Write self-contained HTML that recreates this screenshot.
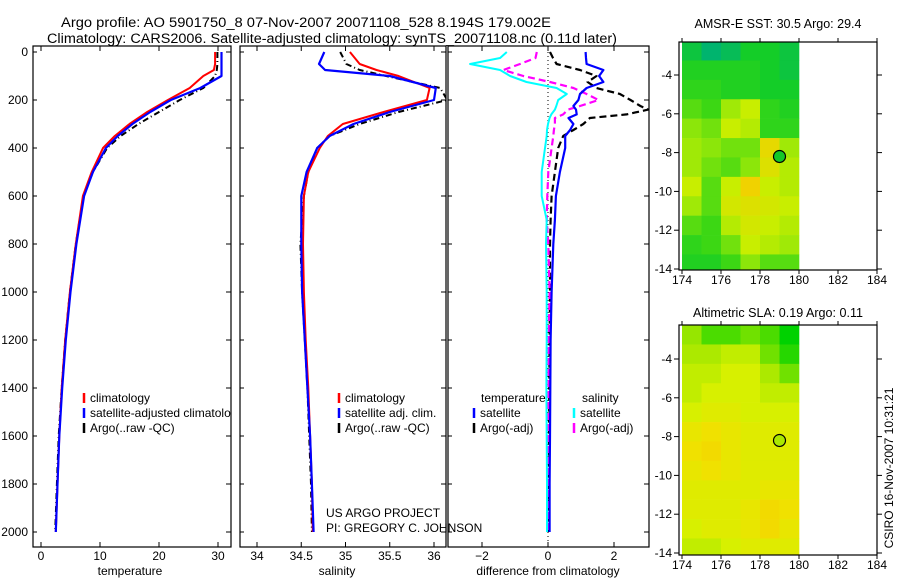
<!DOCTYPE html>
<html><head><meta charset="utf-8"><style>
body{margin:0;background:#fff;}
svg{display:block;font-family:"Liberation Sans",sans-serif;font-size:12px;}
</style></head><body>
<svg id="chart" width="900" height="580" viewBox="0 0 900 580" xmlns="http://www.w3.org/2000/svg">
<defs>
<clipPath id="c1"><rect x="33" y="46" width="198" height="501"/></clipPath>
<clipPath id="c2"><rect x="240" y="46" width="206" height="501"/></clipPath>
<clipPath id="c3"><rect x="448" y="46" width="201" height="501"/></clipPath>
<clipPath id="cm1"><rect x="679" y="42" width="198" height="228"/></clipPath>
<clipPath id="cm2"><rect x="679" y="325" width="198" height="230"/></clipPath>
</defs>
<text x="61" y="27" font-size="13.5" textLength="490" lengthAdjust="spacingAndGlyphs">Argo profile: AO 5901750_8 07-Nov-2007 20071108_528 8.194S 179.002E</text>
<text x="47" y="43" font-size="13.5" textLength="570" lengthAdjust="spacingAndGlyphs">Climatology: CARS2006. Satellite-adjusted climatology: synTS_20071108.nc (0.11d later)</text>
<g id="layer"></g>
<text transform="translate(893,468) rotate(-90)" text-anchor="middle">CSIRO 16-Nov-2007 10:31:21</text>
</svg>
<script>
// ---- data ----
const depths = [0,50,75,100,150,200,250,300,350,400,500,600,800,1000,1200,1400,1600,1800,2000];
const tempClim = [29.5,29.5,29.3,27.5,25.2,21.5,18,15,12.5,10.5,8.6,7.1,5.9,4.9,4.1,3.5,3.1,2.8,2.5];
const tempSat  = [30.6,30.6,30.6,30.6,27,22,18.5,15.5,13,11,8.8,7.3,6,5,4.2,3.6,3.1,2.8,2.5];
const tempArgo = [29.9,29.9,29.8,29.5,27.5,23.5,20,16.5,13.5,11.2,8.8,7.2,5.9,4.9,4.1,3.5,3.0,2.7,2.4];
const salClim = [35.05,35.16,35.35,35.6,35.95,35.92,35.43,34.97,34.8,34.71,34.58,34.53,34.52,34.53,34.55,34.58,34.6,34.62,34.63];
const salSat  = [34.76,34.7,34.77,35.5,36.02,36.0,35.5,35.09,34.82,34.68,34.56,34.5,34.5,34.51,34.54,34.57,34.6,34.62,34.64];
const salArgo = [34.94,35.01,35.16,35.46,36.07,36.15,35.6,35.16,34.82,34.68,34.58,34.53,34.49,34.51,34.54,34.57,34.59,34.61,34.62];
const diffDepths = [0,25,50,75,100,125,150,175,200,225,240,260,275,300,325,350,400,500,600,700,800,1000,1200,1400,1600,1800,2000];
const diffTempSat  = [1.14,1.15,1.17,1.68,1.55,1.68,1.17,0.97,0.92,0.77,0.85,0.87,0.62,0.77,0.67,0.52,0.52,0.36,0.24,0.21,0.16,0.11,0.08,0.07,0.06,0.05,0.05];
const diffTempArgo = [0.06,0.15,0.26,0.97,1.47,1.2,1.47,2.18,2.5,2.8,3.04,2.38,1.27,1.07,0.77,0.46,0.31,0.21,0.11,0.08,0.06,0.06,0.05,0.04,0.03,0.03,0.02];
const diffSalSat   = [-1.25,-1.45,-2.36,-1.45,-1.15,-0.65,0.26,0.57,0.31,0.25,0.21,0.1,0.05,0,-0.03,-0.04,-0.09,-0.19,-0.19,-0.04,-0.06,-0.04,-0.04,-0.05,-0.04,-0.03,-0.03];
const diffSalArgo  = [-0.34,-0.38,-0.85,-1.35,-0.75,0.06,0.77,1.17,1.53,0.97,0.6,0.46,0.21,0.21,0.18,0.16,0.11,0.01,-0.02,-0.04,0.01,0.05,0.02,0.02,0.01,0.01,0.01];
const depthTicks = [0,200,400,600,800,1000,1200,1400,1600,1800,2000];
const tempTicks = [0,10,20,30];
const salTicks = [34,34.5,35,35.5,36];
const diffTicks = [-2,0,2];
const latTicks = [-4,-6,-8,-10,-12,-14];
const lonTicks = [174,176,178,180,182,184];
const gridLon0 = 174, gridLat0 = -2.25;
const sstGrid = [
 [28.8,28.6,28.7,28.9,28.9,28.8],
 [29.0,29.0,29.0,29.0,28.9,28.8],
 [29.1,29.1,29.0,29.0,28.9,28.9],
 [29.3,29.2,29.6,29.8,29.1,29.0],
 [29.5,29.4,29.8,29.7,29.1,29.1],
 [29.6,29.5,29.4,29.4,30.1,29.6],
 [29.6,29.4,29.3,29.5,30.0,29.7],
 [29.8,29.3,29.8,30.2,29.8,29.7],
 [29.6,29.3,29.9,30.0,29.9,29.8],
 [29.3,29.2,29.7,29.9,29.8,29.7],
 [29.1,29.2,29.4,29.8,29.7,29.6],
 [29.0,29.0,29.2,29.5,29.3,29.3]];
const slaGrid = [
 [0.10,0.08,0.08,0.09,0.08,0.06],
 [0.11,0.11,0.12,0.12,0.09,0.07],
 [0.12,0.12,0.13,0.13,0.11,0.09],
 [0.12,0.13,0.13,0.13,0.12,0.12],
 [0.13,0.14,0.14,0.13,0.13,0.13],
 [0.15,0.16,0.15,0.14,0.14,0.14],
 [0.16,0.17,0.15,0.14,0.14,0.14],
 [0.15,0.16,0.15,0.14,0.14,0.14],
 [0.14,0.14,0.14,0.14,0.15,0.15],
 [0.14,0.14,0.14,0.15,0.17,0.16],
 [0.13,0.14,0.14,0.15,0.17,0.15],
 [0.12,0.12,0.13,0.14,0.14,0.14]];
const floatLon = 179.0, floatLat = -8.2;

// ---- drawing ----
const NS = "http://www.w3.org/2000/svg";
const layer = document.getElementById('layer');
function mk(tag, attrs, parent){ const e=document.createElementNS(NS,tag); for(const k in attrs) e.setAttribute(k,attrs[k]); (parent||layer).appendChild(e); return e; }
const yD = d => 52 + 0.24*d;
const xT = v => 41 + 5.9*v;
const xS = v => 257 + 88.5*(v-34);
const xF = v => 548 + 33*v;

function panel(name, x0, x1, xf, ticks, fmt, label, labelX){
  const r = mk('rect',{x:x0,y:46,width:x1-x0,height:501,fill:'none',stroke:'#000','stroke-width':1.2});
  
  
  ticks.forEach(t=>{
    const x=xf(t);
    mk('line',{x1:x,x2:x,y1:46,y2:51,stroke:'#000'});
    mk('line',{x1:x,x2:x,y1:542,y2:547,stroke:'#000'});
    const tl = mk('text',{x:x,y:560,'text-anchor':'middle'}); tl.textContent=fmt(t);
    
    
  });
  depthTicks.forEach(d=>{
    mk('line',{x1:x1-5,x2:x1,y1:yD(d),y2:yD(d),stroke:'#000'});
    mk('line',{x1:x0,x2:x0+4,y1:yD(d),y2:yD(d),stroke:'#000'});
  });
  const al = mk('text',{x:labelX,y:575,'text-anchor':'middle'}); al.textContent=label;
  
  
}
function series(name, ds, vals, xf, color, dash, clip, w){
  const pts = ds.map((d,i)=>xf(vals[i]).toFixed(1)+','+yD(d).toFixed(1)).join(' ');
  const a = {points:pts,fill:'none',stroke:color,'stroke-width':w||2,'clip-path':'url(#'+clip+')','stroke-linejoin':'round'};
  if(dash) a['stroke-dasharray']=dash;
  const p = mk('polyline',a);
  
  
}
function legendEntry(name, x, y, color, txt, clip){
  mk('line',{x1:x,x2:x,y1:y-9,y2:y+1,stroke:color,'stroke-width':2.5});
  const a = {x:x+6,y:y};
  if(clip) a['clip-path']='url(#'+clip+')';
  const t = mk('text',a); t.textContent=txt;
  
  
}

depthTicks.forEach(d=>{
  const t=mk('text',{x:28,y:yD(d)+4,'text-anchor':'end'}); t.textContent=d;
  
  
});

panel('temperature-panel',33,231,xT,tempTicks,v=>v,'temperature',130);
panel('salinity-panel',240,446,xS,salTicks,v=>String(v),'salinity',337);
panel('difference-panel',448,649,xF,diffTicks,v=>v<0?'\u2212'+(-v):v,'difference from climatology',548);

const z = mk('line',{x1:xF(0),x2:xF(0),y1:52,y2:547,stroke:'#000','stroke-dasharray':'1,3'});



series('temp-argo-line',depths,tempArgo,xT,'#000','6,3,1,3','c1',2);
series('temp-climatology-line',depths,tempClim,xT,'#f00',null,'c1',2);
series('temp-satellite-line',depths,tempSat,xT,'#00f',null,'c1',2.2);
series('sal-argo-line',depths,salArgo,xS,'#000','6,3,1,3','c2',2);
series('sal-climatology-line',depths,salClim,xS,'#f00',null,'c2',2);
series('sal-satellite-line',depths,salSat,xS,'#00f',null,'c2',2.2);
series('diff-temp-argo-line',diffDepths,diffTempArgo,xF,'#000','7,4','c3',2.2);
series('diff-sal-argo-line',diffDepths,diffSalArgo,xF,'#f0f','7,4','c3',2.2);
series('diff-sal-satellite-line',diffDepths,diffSalSat,xF,'#0ff',null,'c3',2);
series('diff-temp-satellite-line',diffDepths,diffTempSat,xF,'#00f',null,'c3',2.2);

legendEntry('legend-climatology',84,402,'#f00','climatology','c1');
legendEntry('legend-satellite-adjusted',84,417,'#00f','satellite-adjusted climatology','c1');
legendEntry('legend-argo',84,432,'#000','Argo(..raw -QC)','c1');
legendEntry('legend-sal-climatology',339,402,'#f00','climatology');
legendEntry('legend-sal-satellite',339,417,'#00f','satellite adj. clim.');
legendEntry('legend-sal-argo',339,432,'#000','Argo(..raw -QC)');
(function(){const t=mk('text',{x:481,y:402});t.textContent='temperature';


const s=mk('text',{x:582,y:402});s.textContent='salinity';

})();
legendEntry('legend-diff-temp-satellite',474,417,'#00f','satellite');
legendEntry('legend-diff-temp-argo',474,432,'#000','Argo(-adj)');
legendEntry('legend-diff-sal-satellite',574,417,'#0ff','satellite');
legendEntry('legend-diff-sal-argo',574,432,'#f0f','Argo(-adj)');
(function(){const a=mk('text',{x:326,y:517});a.textContent='US ARGO PROJECT';


const b=mk('text',{x:326,y:532});b.textContent='PI: GREGORY C. JOHNSON';

})();

// ---- maps ----
function lerpColor(stops, v){
  if(v<=stops[0][0]) return stops[0][1];
  for(let i=1;i<stops.length;i++){ if(v<=stops[i][0]){ const a=stops[i-1],b=stops[i],t=(v-a[0])/(b[0]-a[0]); return a[1].map((c,k)=>Math.round(c+(b[1][k]-c)*t)); } }
  return stops[stops.length-1][1];
}
const sstStops=[[28.6,[0,180,110]],[28.9,[20,205,40]],[29.2,[60,215,20]],[29.5,[140,230,10]],[29.8,[200,238,0]],[30.2,[240,210,0]]];
const slaStops=[[0.06,[0,210,0]],[0.10,[150,230,0]],[0.13,[215,240,0]],[0.16,[240,225,0]],[0.19,[245,205,0]]];
function drawMap(name, top, bottom, latRef, latRefY, grid, stops, title, titleY, clip, markerFill, titleLen){
  const xL = lon => 682 + 19.5*(lon-174);
  const yL = lat => latRefY + 19.4*(latRef-lat);
  const g = mk('g',{'clip-path':'url(#'+clip+')'});
  
  
  grid.forEach((row,r)=>row.forEach((v,c)=>{
    const x0=xL(gridLon0+c), x1=xL(gridLon0+c+1);
    const y0=yL(gridLat0-r), y1=yL(gridLat0-r-1);
    const col=lerpColor(stops,v);
    const cell = mk('rect',{x:x0,y:y0,width:Math.min(x1,800)-x0+0.3,height:y1-y0+0.3,fill:'rgb('+col.join(',')+')'},g);
    
    
  }));
  const f = mk('rect',{x:679,y:top,width:198,height:bottom-top,fill:'none',stroke:'#000','stroke-width':1.2});
  
  
  latTicks.forEach(l=>{
    const y=yL(l);
    mk('line',{x1:674,x2:679,y1:y,y2:y,stroke:'#000'});
    mk('line',{x1:877,x2:882,y1:y,y2:y,stroke:'#000'});
    const t=mk('text',{x:672,y:y+4,'text-anchor':'end'}); t.textContent=l<0?'-'+(-l):l;
    
    
  });
  lonTicks.forEach(l=>{
    const x=xL(l);
    mk('line',{x1:x,x2:x,y1:top-4,y2:top,stroke:'#000'});
    mk('line',{x1:x,x2:x,y1:bottom,y2:bottom+4,stroke:'#000'});
    const t=mk('text',{x:x,y:bottom+14,'text-anchor':'middle'}); t.textContent=l;
    
    
  });
  const m = mk('circle',{cx:xL(floatLon),cy:yL(floatLat),r:6,fill:markerFill,stroke:'#000','stroke-width':1.2});
  
  
  const tt=mk('text',{x:778-titleLen/2,y:titleY,'font-size':13,textLength:titleLen,lengthAdjust:'spacingAndGlyphs'}); tt.textContent=title;
  
  
}
drawMap('sst-map',42,270,-4,75,sstGrid,sstStops,'AMSR-E SST: 30.5 Argo: 29.4',28,'cm1','rgb(20,200,40)',167);
drawMap('sla-map',325,555,-4,359,slaGrid,slaStops,'Altimetric SLA: 0.19 Argo: 0.11',317,'cm2','rgb(170,232,0)',170);
</script>
</body></html>
